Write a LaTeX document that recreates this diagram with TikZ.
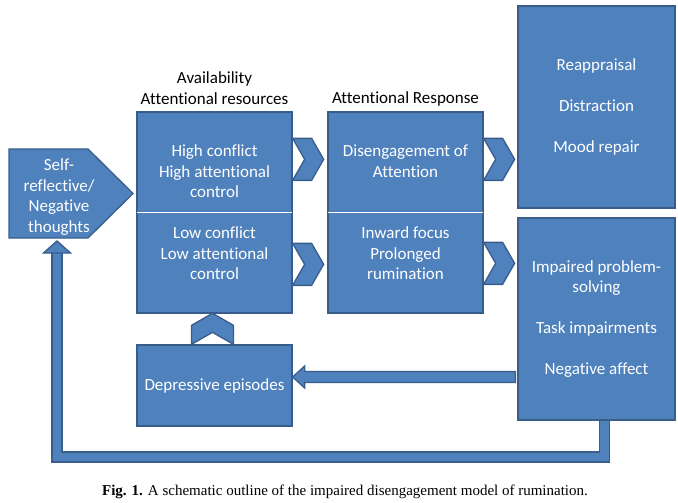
\documentclass[tikz,border=0pt]{standalone}
\usepackage{fontspec}
\setmainfont{Carlito}[Ligatures=NoCommon]
\newfontfamily\capfont{Liberation Serif}
\usetikzlibrary{calc}
\usetikzlibrary{positioning}
\definecolor{officeblue}{RGB}{79, 129, 189}
\definecolor{officeedge}{RGB}{56, 93, 138}

\tikzset{
  every node/.style={font=\fontsize{17}{20.5}\selectfont},
  box/.style={draw=officeedge, fill=officeblue, line width=1.3pt, text=white, align=center, inner sep=0pt},
  chev/.style={draw=officeedge, fill=officeblue, line width=1.3pt, line join=miter},
  loopbar/.style={draw=officeedge, line width=1.3pt, double=officeblue, double distance=8.5pt, line join=miter},
  heading/.style={black, align=center, inner sep=0pt}
}
% chevron: #1 base point, #2 direction
\newcommand{\chevron}[2]{%
  \filldraw[chev, shift={#1}, rotate=#2] (0,-21) -- (19,-21) -- (31,0) -- (19,21) -- (0,21) -- (12,0) -- cycle;}

\begin{document}
\begin{tikzpicture}[x=1pt, y=-1pt]
  \useasboundingbox (0,0) rectangle (678,503);

  % pentagon
  \filldraw[chev] (9,149) -- (88,149) -- (133,193.5) -- (88,238) -- (9,238) -- cycle;
  \coordinate (selfbot) at (57,238);
  \node[box, draw=none, fill=none, font=\fontsize{17}{20.8}\selectfont] (self) at (59,197)
       {Self-\\reflective/\\Negative\\thoughts};

  % boxes
  \node[box, minimum width=155, minimum height=201] (avail) at (214.5,212.5)
       {High conflict\\High attentional\\control\\[20.5pt]Low conflict\\Low attentional\\control};
  \node[box, minimum width=155, minimum height=201] (resp) at (405.5,212.5)
       {Disengagement of\\Attention\\[41pt]Inward focus\\Prolonged\\rumination};
  \node[box, minimum width=157, minimum height=202] (strat) at (596.5,107)
       {Reappraisal\\[20.5pt]Distraction\\[20.5pt]Mood repair};
  \node[box, minimum width=157, minimum height=202] (cons) at (596.5,319)
       {Impaired problem-\\solving\\[20.5pt]Task impairments\\[20.5pt]Negative affect};
  \node[box, minimum width=155, minimum height=81] (depr) at (214.5,385.5) {Depressive episodes};

  \draw[white, line width=1.3pt] ($(avail.west)+(0.7,0)$) -- ($(avail.east)+(-0.7,0)$);
  \draw[white, line width=1.3pt] ($(resp.west)+(0.7,0)$) -- ($(resp.east)+(-0.7,0)$);

  % headings
  \node[heading] (availtitle) at (214.5,88) {Availability\\Attentional resources};
  \node[heading] (resptitle) at (405.5,99) {Attentional Response};

  % chevrons
  \chevron{($(avail.north east)+(0,48)$)}{0}
  \chevron{($(avail.north east)+(0,153)$)}{0}
  \chevron{($(resp.north east)+(0,48)$)}{0}
  \chevron{($(resp.north east)+(0,152)$)}{0}
  \chevron{($(depr.north)+(-2,0)$)}{90}

  % arrow back to depressive episodes
  \coordinate (atail) at ($(cons.west)+(-2,58)$);
  \coordinate (ahead) at ($(depr.east)+(0,-8.5)$);
  \filldraw[chev] ($(atail)+(0,-5.5)$) -- ($(ahead)+(12,-5.5)$) -- ($(ahead)+(12,-11)$) -- (ahead)
     -- ($(ahead)+(12,11)$) -- ($(ahead)+(12,5.5)$) -- ($(atail)+(0,5.5)$) -- cycle;

  % feedback loop
  \coordinate (loopstart) at ($(cons.south)+(8,0)$);
  \coordinate (loopbot) at (0,457);
  \coordinate (loopend) at ($(selfbot)+(0,15)$);
  \draw[loopbar] (loopstart) -- (loopstart |- loopbot) -| (loopend);
  \filldraw[chev] ($(loopend)+(-13.5,0)$) -- ($(loopend)+(13.5,0)$) -- ($(selfbot)+(0,3)$) -- cycle;

  % caption
  \node[font=\capfont\fontsize{15}{17}\selectfont] (caption) at (345,492)
       {\textbf{Fig. 1.} A schematic outline of the impaired disengagement model of rumination.};
\end{tikzpicture}
\end{document}
